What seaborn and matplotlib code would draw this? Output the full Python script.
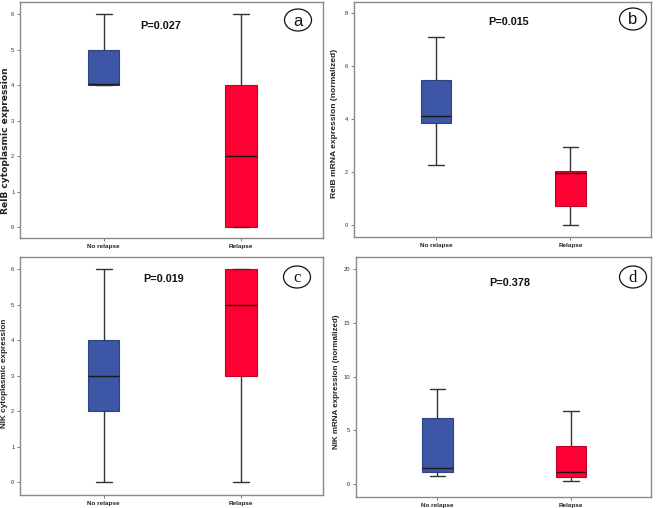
import matplotlib
matplotlib.use("Agg")
import matplotlib.pyplot as plt
import seaborn as sns
import pandas as pd
from matplotlib.patches import Ellipse

sns.set_theme(style="white")
plt.rcParams['font.family'] = ['Liberation Sans', 'DejaVu Sans']

groups = ["No relapse", "Relapse"]
# five-number summaries (min, Q1, median, Q3, max)
a_no = [4.0, 4.0, 4.02, 5.0, 6.0]
a_re = [0.0, 0.0, 2.0, 4.0, 6.0]
b_no = [2.27, 3.85, 4.13, 5.47, 7.1]
b_re = [0.0, 0.72, 1.96, 2.05, 2.94]
c_no = [0.0, 2.0, 3.0, 4.0, 6.0]
c_re = [0.0, 3.0, 5.0, 6.0, 6.0]
d_no = [0.74, 1.15, 1.49, 6.14, 8.87]
d_re = [0.28, 0.68, 1.12, 3.53, 6.79]

ylabels = ["RelB cytoplasmic expression", "RelB mRNA expression (normalized)",
           "NIK cytoplasmic expression", "NIK mRNA expression (normalized)"]
pvals = ["P=0.027", "P=0.015", "P=0.019", "P=0.378"]
letters = ["a", "b", "c", "d"]
yticks = [[0, 1, 2, 3, 4, 5, 6], [0, 2, 4, 6, 8], [0, 1, 2, 3, 4, 5, 6], [0, 5, 10, 15, 20]]
ylims = [(-0.31, 6.34), (-0.45, 8.42), (-0.36, 6.35), (-1.19, 21.1)]

blue = "#3D56A6"
red = "#FF0033"
W, H = 658, 508
fig = plt.figure(figsize=(W / 100, H / 100), dpi=100)
fig.patch.set_facecolor("white")

# pixel boxes: left, right, top, bottom
boxes = [(20, 323, 2, 238), (354, 651, 2, 237), (20, 323, 257, 495), (356, 651, 257, 497)]
ptext = [(161, 26), (509, 22), (164, 279), (510, 283)]
lpos = [(298, 20), (633, 19), (297, 277), (633, 277)]
letter_font = ['Liberation Sans', 'Liberation Sans', 'Liberation Serif', 'Liberation Serif']
ylab_x = [6, 335, 5, 337]
ylab_y = [141, 123, 373, 382]
ylab_fs = [6.6, 6.1, 5.9, 5.8]
ylab_font = [['DejaVu Sans'], ['Liberation Sans'], ['Liberation Sans'], ['Liberation Sans']]

datasets = [(a_no, a_re), (b_no, b_re), (c_no, c_re), (d_no, d_re)]

for i, (dn, dr) in enumerate(datasets):
    l, r, t, b = boxes[i]
    ax = fig.add_axes([l / W, (H - b) / H, (r - l) / W, (b - t) / H])
    df = pd.DataFrame({"group": [groups[0]] * len(dn) + [groups[1]] * len(dr),
                       "value": dn + dr})
    sns.boxplot(data=df, x="group", y="value", hue="group", order=groups,
                hue_order=groups, palette=[blue, red], width=0.23, whis=(0, 100),
                saturation=1, linewidth=1.0, linecolor="#333333", legend=False, ax=ax,
                medianprops=dict(color="#1a1a1a", linewidth=1.0))
    for p, ec in zip(ax.patches, ["#2e4480", "#c0002a"]):
        p.set_edgecolor(ec)
        p.set_linewidth(0.8)
    ax.set_xlim(-0.61, 1.6)
    ax.set_ylim(*ylims[i])
    ax.set_yticks(yticks[i])
    ax.set_yticklabels([str(v) for v in yticks[i]], fontsize=4.2, color="#333333")
    ax.set_xticks([0, 1])
    ax.set_xticklabels(groups, fontsize=4.6, fontweight="bold", color="#222222")
    ax.tick_params(axis="both", which="both", length=2.5, width=0.6, color="#666666",
                   pad=1.5, left=True, bottom=True)
    ax.set_xlabel("")
    ax.set_ylabel("")
    for s in ax.spines.values():
        s.set_visible(True)
        s.set_color("#8a8a8a")
        s.set_linewidth(1.0)
    # y label
    fig.text(ylab_x[i] / W, 1 - ylab_y[i] / H, ylabels[i], rotation=90,
             ha="center", va="center", fontsize=ylab_fs[i], fontweight="bold",
             family=ylab_font[i], color="#222222")
    # p-value
    px, py = ptext[i]
    fig.text(px / W, 1 - py / H, pvals[i], ha="center", va="center",
             fontsize=7.8, fontweight="bold", color="#111111")
    # letter circle
    lx, ly = lpos[i]
    e = Ellipse((lx / W, 1 - ly / H), 27 / W, 22 / H, transform=fig.transFigure,
                fill=False, edgecolor="#111111", linewidth=0.9)
    fig.patches.append(e)
    fig.text(lx / W, 1 - (ly + 1) / H, letters[i], ha="center", va="center",
             fontsize=12, fontfamily=letter_font[i], color="#111111")

fig.savefig("out.png", dpi=100, facecolor="white")
